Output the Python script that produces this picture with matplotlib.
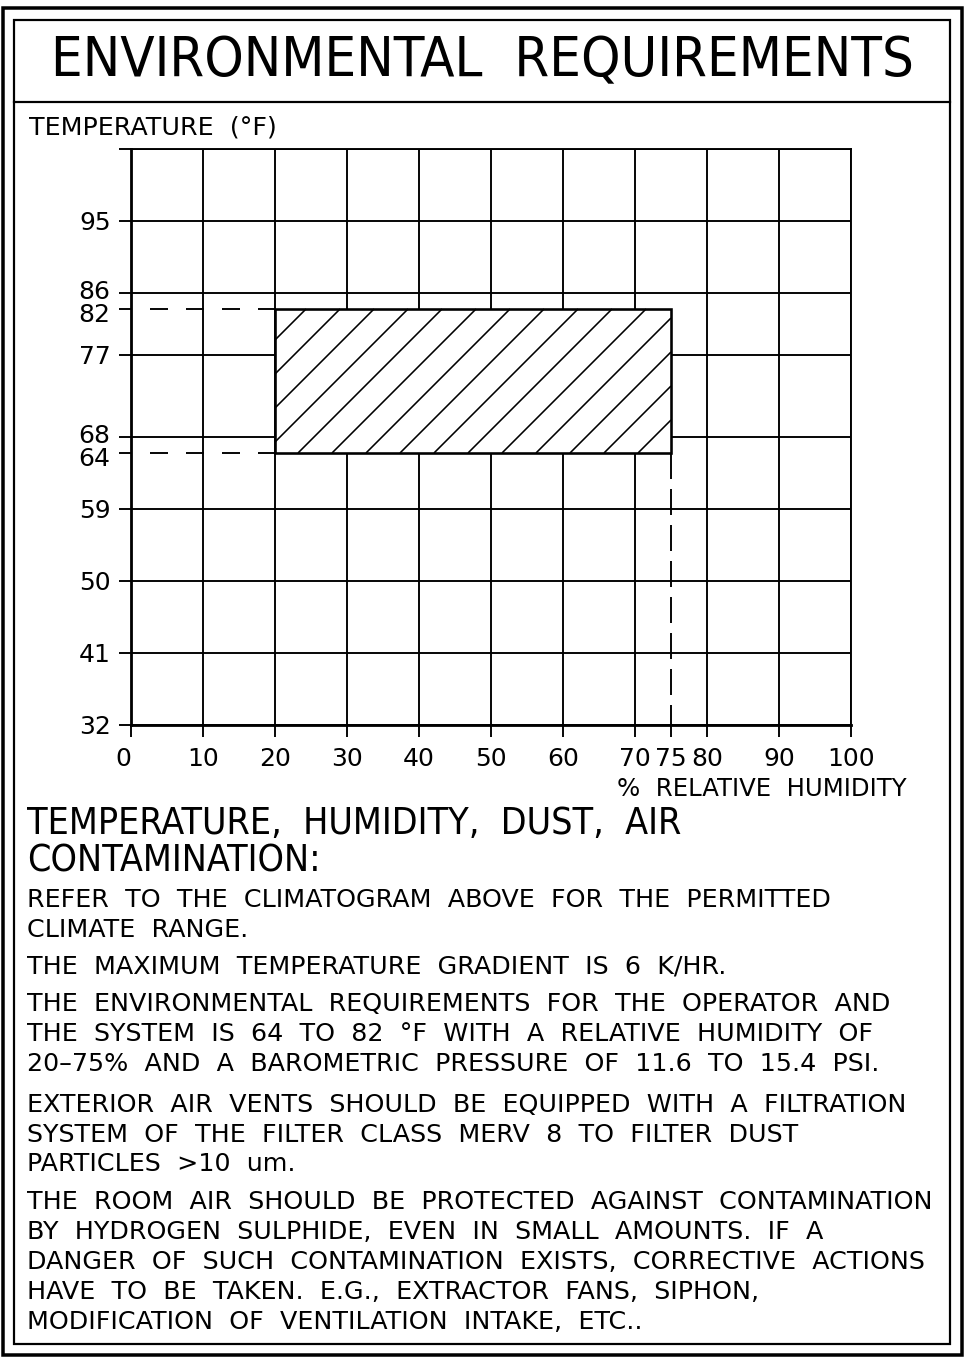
import numpy as np
import matplotlib
matplotlib.use("Agg")
import matplotlib.pyplot as plt
from matplotlib.patches import Rectangle
from matplotlib import font_manager as fm
from matplotlib.transforms import ScaledTranslation

# ---------------- data ----------------
humidity_ticks = [0, 10, 20, 30, 40, 50, 60, 70, 75, 80, 90, 100]
humidity_grid = [0, 10, 20, 30, 40, 50, 60, 70, 80, 90, 100]
temp_ticks = [32, 41, 50, 59, 64, 68, 77, 82, 86, 95, 104]
temp_tick_labels = ["32", "41", "50", "59", "64", "68", "77", "82", "86", "95", ""]
temp_grid = [32, 41, 50, 59, 68, 77, 86, 95, 104]
temp_range = (64, 82)        # permitted temperature (°F)
humidity_range = (20, 75)    # permitted relative humidity (%)
# breakpoints of the drawing's temperature scale (as drawn in the climatogram)
scale_f = [32, 59, 64, 68, 82, 86, 104]
scale_drawn = [32, 59, 66, 68, 84, 86, 104]

title = "ENVIRONMENTAL  REQUIREMENTS"
y_title = "TEMPERATURE  (°F)"
x_title = "%  RELATIVE  HUMIDITY"
heading = ["TEMPERATURE,  HUMIDITY,  DUST,  AIR", "CONTAMINATION:"]
body = [
    "REFER  TO  THE  CLIMATOGRAM  ABOVE  FOR  THE  PERMITTED",
    "CLIMATE  RANGE.",
    "THE  MAXIMUM  TEMPERATURE  GRADIENT  IS  6  K/HR.",
    "THE  ENVIRONMENTAL  REQUIREMENTS  FOR  THE  OPERATOR  AND",
    "THE  SYSTEM  IS  64  TO  82  °F  WITH  A  RELATIVE  HUMIDITY  OF",
    "20–75%  AND  A  BAROMETRIC  PRESSURE  OF  11.6  TO  15.4  PSI.",
    "EXTERIOR  AIR  VENTS  SHOULD  BE  EQUIPPED  WITH  A  FILTRATION",
    "SYSTEM  OF  THE  FILTER  CLASS  MERV  8  TO  FILTER  DUST",
    "PARTICLES  >10  um.",
    "THE  ROOM  AIR  SHOULD  BE  PROTECTED  AGAINST  CONTAMINATION",
    "BY  HYDROGEN  SULPHIDE,  EVEN  IN  SMALL  AMOUNTS.  IF  A",
    "DANGER  OF  SUCH  CONTAMINATION  EXISTS,  CORRECTIVE  ACTIONS",
    "HAVE  TO  BE  TAKEN.  E.G.,  EXTRACTOR  FANS,  SIPHON,",
    "MODIFICATION  OF  VENTILATION  INTAKE,  ETC..",
]
body_y = [900, 930, 967, 1004, 1034, 1064, 1105, 1135, 1164,
          1202, 1232, 1262, 1292, 1322]
body_right = [823, 243, 737, 887, 869, 908, 905, 812, 304,
              920, 828, 915, 770, 640]

# ---------------- figure ----------------
W, H = 968, 1360
DPI = 100
plt.rcParams["lines.scale_dashes"] = False
plt.rcParams["font.family"] = ["DejaVu Sans"]
fig = plt.figure(figsize=(W / DPI, H / DPI), dpi=DPI)
fig.patch.set_facecolor("white")
renderer = fig.canvas.get_renderer()

PX = 72.0 / DPI  # points per pixel

# look for an installed condensed face for the title lettering
cond_fp = None
for f in fm.fontManager.ttflist:
    nm = f.name.lower()
    if (("narrow" in nm or "condensed" in nm or str(f.stretch) in
         ("condensed", "semi-condensed")) and f.style == "normal"
            and f.weight in (400, "normal", "regular") and "mono" not in nm):
        cond_fp = fm.FontProperties(fname=f.fname)
        break


def fx(x):
    return x / W


def fy(y):
    return 1 - y / H


def width_of(t):
    return t.get_window_extent(renderer).width


def fit(x, y, s, size, target_w, ha="left", fp=None):
    kw = {"fontproperties": fp.copy()} if fp is not None else {}
    t = fig.text(fx(x), fy(y), s, ha=ha, va="center", **kw)
    t.set_fontsize(size)
    w = width_of(t)
    if w > target_w:
        t.set_fontsize(size * target_w / w)
    return t


# frame
outer = Rectangle((fx(3), fy(1355)), fx(962) - fx(3), fy(8) - fy(1355),
                  transform=fig.transFigure, fill=False, lw=3.5 * PX, ec="black")
inner = Rectangle((fx(14), fy(1344)), fx(950) - fx(14), fy(20) - fy(1344),
                  transform=fig.transFigure, fill=False, lw=2.2 * PX, ec="black")
fig.patches.extend([outer, inner])
fig.add_artist(plt.Line2D([fx(14), fx(950)], [fy(102), fy(102)],
                          transform=fig.transFigure, color="black", lw=2.2 * PX))

# title
fit(482, 61, title, 41, 865, ha="center", fp=cond_fp)

# ---------------- axes ----------------
ax = fig.add_axes([fx(131), fy(725), fx(851) - fx(131), fy(149) - fy(725)])


def fwd(v):
    return np.interp(v, scale_f, scale_drawn)


def inv(v):
    return np.interp(v, scale_drawn, scale_f)


ax.set_yscale("function", functions=(fwd, inv))
ax.set_xlim(humidity_grid[0], humidity_grid[-1])
ax.set_ylim(temp_grid[0], temp_grid[-1])

glw = 1.9 * PX
ax.vlines(humidity_grid, temp_grid[0], temp_grid[-1], color="black", lw=glw, zorder=1)
ax.hlines(temp_grid, humidity_grid[0], humidity_grid[-1], color="black", lw=glw, zorder=1)

for s in ["top", "right"]:
    ax.spines[s].set_linewidth(glw)
for s in ["left", "bottom"]:
    ax.spines[s].set_linewidth(2.8 * PX)

ax.set_xticks(humidity_ticks)
ax.set_xticklabels([str(v) for v in humidity_ticks])
ax.set_yticks(temp_ticks)
ax.set_yticklabels(temp_tick_labels)
ax.yaxis.set_minor_locator(matplotlib.ticker.NullLocator())
ax.tick_params(axis="both", direction="out", length=12 * PX, width=glw,
               labelsize=18, colors="black")
ax.tick_params(axis="x", pad=7)
ax.tick_params(axis="y", pad=6)
ax.get_xticklabels()[0].set_horizontalalignment("right")

# nudge the closely spaced tick labels apart, as in the drawing
nudge = {"86": 3.5, "82": -3.5, "68": 3.5, "64": -3.5}
for lab in ax.get_yticklabels():
    d = nudge.get(lab.get_text())
    if d:
        lab.set_transform(lab.get_transform() +
                          ScaledTranslation(0, d / DPI, fig.dpi_scale_trans))

# permitted range rectangle
rect = Rectangle((humidity_range[0], temp_range[0]),
                 humidity_range[1] - humidity_range[0],
                 temp_range[1] - temp_range[0],
                 facecolor="white", edgecolor="black", lw=2.6 * PX, zorder=4)
ax.add_patch(rect)

# dashed guide lines
hd = (17 * PX, (18 * PX, 18 * PX))
ax.plot([humidity_grid[0], humidity_range[0]], [temp_range[1]] * 2, color="black",
        lw=glw, ls=hd, zorder=2, clip_on=False)
ax.plot([humidity_grid[0], humidity_range[0]], [temp_range[0]] * 2, color="black",
        lw=glw, ls=hd, zorder=2, clip_on=False)
ax.plot([humidity_range[1]] * 2, [temp_range[0], temp_grid[0]], color="black",
        lw=glw, ls=(0, (26 * PX, 10 * PX)), zorder=2, clip_on=False)

# hatch lines (45 deg, 34 px spacing) inside the rectangle
x0d, y0d = ax.transData.transform((humidity_range[0], temp_range[1]))
x1d, y1d = ax.transData.transform((humidity_range[1], temp_range[0]))
invt = ax.transData.inverted()
k = x0d - y0d + 31
while k < x1d - y1d:
    lo = max(y1d, x0d - k)
    hi = min(y0d, x1d - k)
    if hi > lo:
        p = invt.transform([(k + lo, lo), (k + hi, hi)])
        ax.plot(p[:, 0], p[:, 1], color="black", lw=1.6 * PX, zorder=5,
                solid_capstyle="butt")
    k += 34

# axis titles
fit(29, 127, y_title, 18.5, 249)
fit(907, 789, x_title, 18.5, 290, ha="right")

# text block: headings
h0 = fit(27, 824, heading[0], 27, 657, fp=cond_fp)
h1 = fig.text(fx(27), fy(861), heading[1], va="center", ha="left",
              **({"fontproperties": cond_fp.copy()} if cond_fp else {}))
h1.set_fontsize(h0.get_fontsize())

# body: one common size matched to the reference line lengths
ts = []
ratios = []
for yy, s, r in zip(body_y, body, body_right):
    t = fig.text(fx(27), fy(yy), s, fontsize=17.5, va="center", ha="left")
    ts.append(t)
    if r - 27 > 400:
        ratios.append((r - 27) / width_of(t))
body_size = 17.5 * float(np.clip(np.median(ratios), 0.85, 1.08))
for t in ts:
    t.set_fontsize(body_size)

fig.savefig("out.png", dpi=DPI, facecolor="white")
